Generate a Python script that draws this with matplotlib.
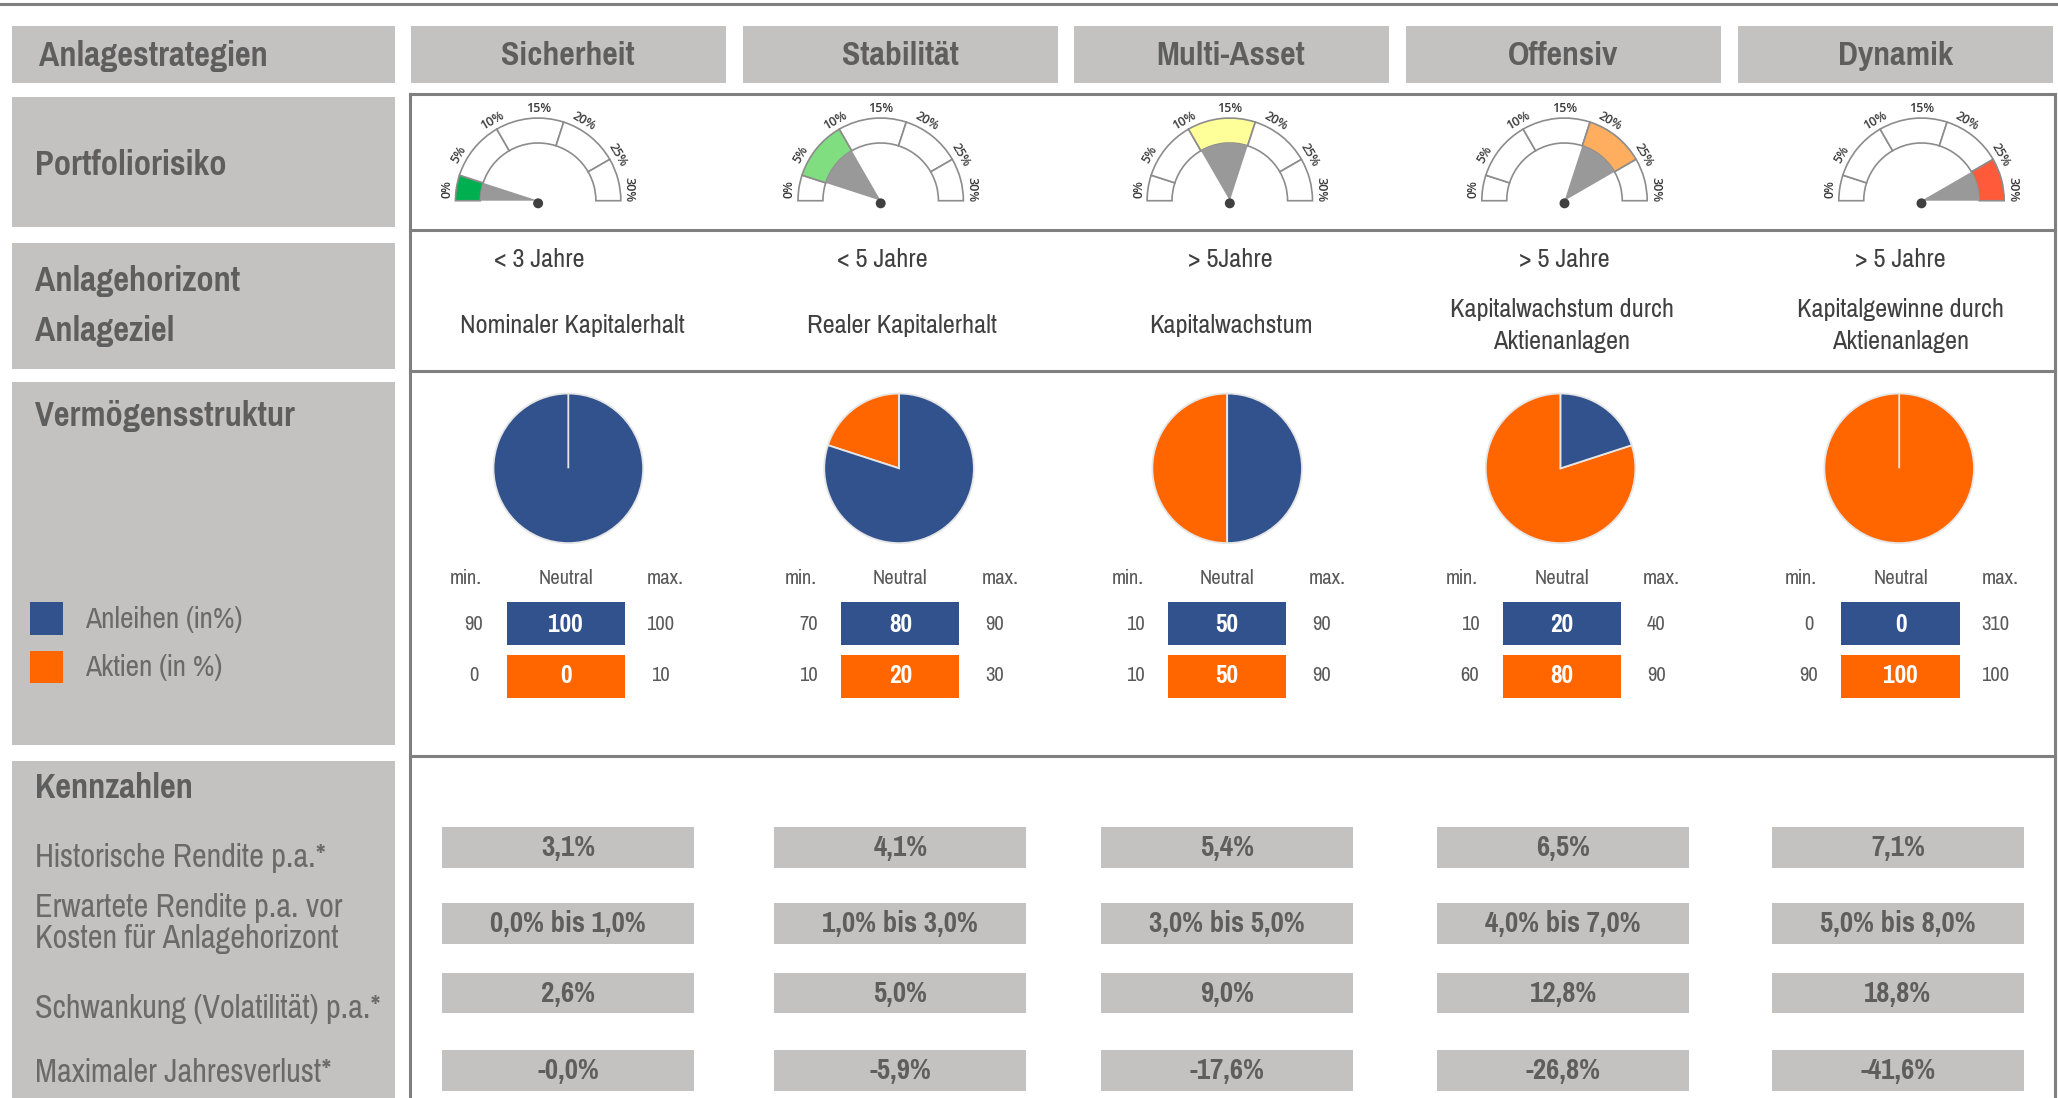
import math
import matplotlib.pyplot as plt
from matplotlib import font_manager
from matplotlib.patches import Rectangle, Wedge, Circle

# --- data -------------------------------------------------------------
strategies = ['Sicherheit', 'Stabilität', 'Multi-Asset', 'Offensiv', 'Dynamik']

gauge_ticks = [0, 5, 10, 15, 20, 25, 30]          # % labels on the dial
risk_bands = [0, 3, 10, 18, 25, 30]                # segment borders in %
risk_band = [0, 1, 2, 3, 4]                        # highlighted segment
risk_colors = ['#00b050', '#80de80', '#ffff99', '#ffad5f', '#ff5a3a']

horizon = ['< 3 Jahre', '< 5 Jahre', '> 5Jahre', '> 5 Jahre', '> 5 Jahre']
goals = ['Nominaler Kapitalerhalt', 'Realer Kapitalerhalt', 'Kapitalwachstum',
         'Kapitalwachstum durch\nAktienanlagen', 'Kapitalgewinne durch\nAktienanlagen']

bonds_min = [90, 70, 10, 10, 0]
bonds_neutral = [100, 80, 50, 20, 0]
bonds_max = [100, 90, 90, 40, 310]
stocks_min = [0, 10, 10, 60, 90]
stocks_neutral = [0, 20, 50, 80, 100]
stocks_max = [10, 30, 90, 90, 100]

kpi_labels = ['Historische Rendite p.a.*',
              'Erwartete Rendite p.a. vor\nKosten für Anlagehorizont',
              'Schwankung (Volatilität) p.a.*',
              'Maximaler Jahresverlust*']
hist_return = ['3,1%', '4,1%', '5,4%', '6,5%', '7,1%']
exp_return = ['0,0% bis 1,0%', '1,0% bis 3,0%', '3,0% bis 5,0%', '4,0% bis 7,0%', '5,0% bis 8,0%']
volatility = ['2,6%', '5,0%', '9,0%', '12,8%', '18,8%']
max_loss = ['-0,0%', '-5,9%', '-17,6%', '-26,8%', '-41,6%']


# --- fonts: the original uses Arial Narrow, so look for a narrow face with a real bold
def weight_num(w):
    if isinstance(w, str):
        return font_manager.weight_dict.get(w, 400)
    return w


def has_bold(fam):
    ws = [weight_num(f.weight) for f in font_manager.fontManager.ttflist if f.name == fam]
    return any(w <= 500 for w in ws) and any(w >= 700 for w in ws)


narrow = None
for fam in ['Liberation Sans Narrow', 'Arial Narrow', 'Pragati Narrow', 'Roboto Condensed',
            'Archivo Narrow', 'PT Sans Narrow', 'IBM Plex Sans Condensed', 'Fira Sans Condensed']:
    if has_bold(fam):
        narrow = fam
        break
if narrow:
    FONT = [narrow, 'Liberation Sans', 'DejaVu Sans']
    SC = 1.0 if narrow in ('Liberation Sans Narrow', 'Arial Narrow') else 1.1
else:
    FONT = ['Liberation Sans', 'DejaVu Sans']
    SC = 0.85

BOX = '#c3c2c0'
HEAD = '#5e5e5e'
LABEL = '#6a6a6a'
TXT = '#404040'
SMALL = '#595959'
LINE = '#7f7f7f'
BLUE = '#31528c'
ORANGE = '#ff6600'

W, H = 1568, 837
def Y(y):
    return H - y

fig = plt.figure(figsize=(20.58, 10.98), dpi=100)
ax = fig.add_axes([0, 0, 1, 1])

def box(x0, y0, x1, y1, color=BOX):
    ax.add_patch(Rectangle((x0, Y(y1)), x1 - x0, y1 - y0, facecolor=color, edgecolor='none', zorder=1))

def txt(x, y, s, size, color=TXT, weight='normal', ha='center', **kw):
    ax.text(x, Y(y), s, fontsize=size * SC, color=color, fontweight=weight, ha=ha, va='center',
            family=FONT, zorder=5, **kw)

# top rule
ax.plot([0, W], [Y(3), Y(3)], color=LINE, lw=2.2)

# left column
box(9, 20, 301, 63)
box(9, 74, 301, 173)
box(9, 185, 301, 281)
box(9, 291, 301, 568)
box(9, 580, 301, 845)
txt(30, 43, 'Anlagestrategien', 24.5, HEAD, 'bold', ha='left')
txt(27, 126, 'Portfoliorisiko', 24.5, HEAD, 'bold', ha='left')
txt(27, 214, 'Anlagehorizont', 24.5, HEAD, 'bold', ha='left')
txt(27, 252, 'Anlageziel', 24.5, HEAD, 'bold', ha='left')
txt(27, 317, 'Vermögensstruktur', 24.5, HEAD, 'bold', ha='left')
txt(27, 601, 'Kennzahlen', 24.5, HEAD, 'bold', ha='left')

box(23, 459, 48, 484, BLUE)
box(23, 496, 48, 521, ORANGE)
txt(65, 472, 'Anleihen (in%)', 21, LABEL, ha='left')
txt(65, 509, 'Aktien (in %)', 21, LABEL, ha='left')

kpi_label_y = [654, 704, 769, 818]
for yy, lab in zip(kpi_label_y, kpi_labels):
    txt(27, yy, lab, 23, LABEL, ha='left', linespacing=1.05)

# header row
header_x = [313, 566, 818, 1071, 1324]
for x0, name in zip(header_x, strategies):
    box(x0, 20, x0 + 240, 63)
    txt(x0 + 120, 43, name, 24, HEAD, 'bold')

# frame around the strategy columns
fx0, fx1 = 312, 1566
for yy in [72, 175, 283, 576]:
    ax.plot([fx0, fx1], [Y(yy), Y(yy)], color=LINE, lw=2.2, zorder=3)
ax.plot([fx0, fx0], [Y(72), Y(845)], color=LINE, lw=2.2, zorder=3)
ax.plot([fx1, fx1], [Y(72), Y(845)], color=LINE, lw=2.2, zorder=3)

# gauges
gauge_cx = [410, 671, 937, 1192, 1464]
gauge_cy = 153
R, r = 63, 44
def ang(p):
    return 180 - p * 180 / 30

for i, cx in enumerate(gauge_cx):
    c = (cx, Y(gauge_cy))
    for k in range(len(risk_bands) - 1):
        t1, t2 = ang(risk_bands[k + 1]), ang(risk_bands[k])
        fc = risk_colors[i] if k == risk_band[i] else 'white'
        ax.add_patch(Wedge(c, R, t1, t2, width=R - r, facecolor=fc, edgecolor='#8c8c8c', lw=1.2, zorder=3))
    k = risk_band[i]
    ax.add_patch(Wedge(c, r, ang(risk_bands[k + 1]), ang(risk_bands[k]), facecolor='#999999',
                       edgecolor='none', zorder=3))
    ax.add_patch(Circle((cx, Y(gauge_cy + 2)), 3.8, facecolor='#404040', edgecolor='none', zorder=4))
    for p in gauge_ticks:
        a = min(max(ang(p), 7), 173)
        lx = cx + (R + 7) * math.cos(math.radians(a))
        ly = Y(gauge_cy) + (R + 7) * math.sin(math.radians(a))
        ax.text(lx, ly, f'{p}%', fontsize=9, color='#3a3a3a', ha='center', va='center',
                rotation=ang(p) - 90, family=['Open Sans', 'DejaVu Sans'], fontweight='semibold',
                zorder=5)

# horizon and goal
text_cx = [411, 672, 937, 1192, 1448]
goal_cx = [436, 687, 938, 1190, 1448]
for i in range(5):
    txt(text_cx[i], 198, horizon[i], 18.7)
    txt(goal_cx[i], 248, goals[i], 18.7, linespacing=1.45)

# pies
pie_cx = [433, 685, 935, 1189, 1447]
for i, cx in enumerate(pie_cx):
    wedges, _ = ax.pie([stocks_neutral[i], bonds_neutral[i]], colors=[ORANGE, BLUE], startangle=90,
                       counterclock=True, center=(cx, Y(357)), radius=57, frame=True,
                       wedgeprops=dict(edgecolor='#e6e6e6', linewidth=1.3))
    for w in wedges:
        if abs(w.theta2 - w.theta1) < 1e-6:
            w.set_zorder(3)

# allocation table
tbl_cx = [431, 686, 935, 1190, 1448]
for i, cx in enumerate(tbl_cx):
    txt(cx - 76, 441, 'min.', 14.7, SMALL)
    txt(cx, 441, 'Neutral', 14.7, SMALL)
    txt(cx + 76, 441, 'max.', 14.7, SMALL)
    box(cx - 45, 459, cx + 45, 492, BLUE)
    box(cx - 45, 499, cx + 45, 532, ORANGE)
    txt(cx, 476, str(bonds_neutral[i]), 18, 'white', 'bold')
    txt(cx, 515, str(stocks_neutral[i]), 18, 'white', 'bold')
    txt(cx - 70, 476, str(bonds_min[i]), 14.7, SMALL)
    txt(cx + 72, 476, str(bonds_max[i]), 14.7, SMALL)
    txt(cx - 70, 515, str(stocks_min[i]), 14.7, SMALL)
    txt(cx + 72, 515, str(stocks_max[i]), 14.7, SMALL)

# key figures
kpi_cx = [433, 686, 935, 1191, 1446]
kpi_y = [646, 704, 757, 816]
for row, vals in zip(kpi_y, [hist_return, exp_return, volatility, max_loss]):
    for cx, v in zip(kpi_cx, vals):
        box(cx - 96, row - 15.5, cx + 96, row + 15.5)
        txt(cx, row, v, 20.5, HEAD, 'bold')

ax.set_xlim(0, W)
ax.set_ylim(0, H)
ax.set_aspect('auto')
ax.axis('off')
fig.savefig('out.png', dpi=100, facecolor='white')
